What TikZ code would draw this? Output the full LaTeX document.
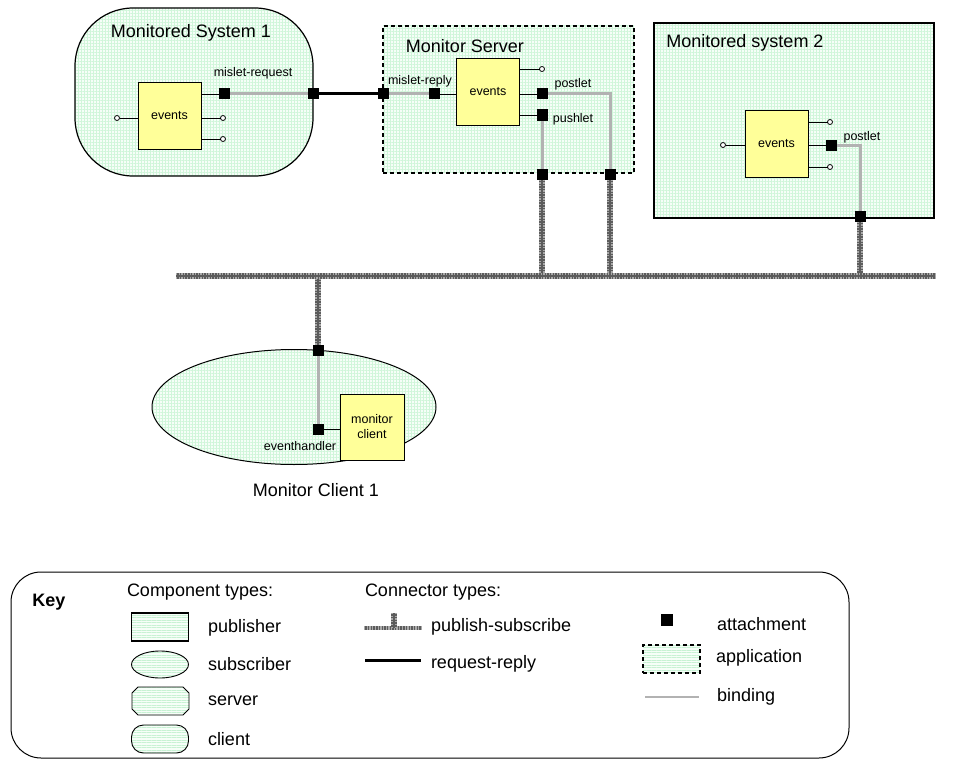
\documentclass[tikz,border=0pt]{standalone}
\usepackage{fontspec}
\setmainfont{Liberation Sans}
\usetikzlibrary{patterns.meta,shapes.geometric}

\definecolor{mint}{RGB}{246,254,248}
\definecolor{gridgreen}{RGB}{208,246,218}
\definecolor{keygreen}{RGB}{200,242,212}
\definecolor{evyellow}{RGB}{255,255,153}
\definecolor{bindgray}{RGB}{178,178,178}
\definecolor{psdark}{RGB}{92,92,92}
\definecolor{pslight}{RGB}{170,170,170}

\tikzset{
  x=1pt, y=-1pt,
  every node/.style={inner sep=0pt, outer sep=0pt},
  gridfill/.style={preaction={fill=mint}, pattern={Hatch[distance=3pt,line width=0.4pt]}, pattern color=gridgreen},
  linefill/.style={preaction={fill=mint}, pattern={Lines[angle=0,distance=2.5pt,line width=0.35pt]}, pattern color=keygreen},
  container/.style={draw, line width=1.2pt, gridfill},
  evbox/.style={draw, line width=1pt, fill=evyellow, minimum width=63pt, minimum height=66pt, font=\fontsize{12.5}{15}\selectfont},
  att/.style={fill=black, minimum size=11pt},
  port/.style={circle, draw, line width=0.8pt, fill=white, minimum size=5pt},
  wire/.style={line width=0.9pt},
  binding/.style={draw=bindgray, line width=3pt},
  reqrep/.style={draw=black, line width=3pt},
  pubsub/.style={draw=psdark, line width=6pt,
    postaction={draw=pslight, line width=6pt, dash pattern=on 1.3pt off 1.4pt},
    postaction={draw=psdark, line width=1.2pt}},
  pubsubthin/.style={draw=psdark, line width=3.5pt,
    postaction={draw=pslight, line width=3.5pt, dash pattern=on 1.3pt off 1.4pt}},
  title/.style={font=\fontsize{18}{21.6}\selectfont},
  small/.style={font=\fontsize{12.5}{15}\selectfont},
  keytext/.style={font=\fontsize{18}{21.6}\selectfont, anchor=west},
}

\begin{document}
\begin{tikzpicture}
\useasboundingbox (0,0) rectangle (954,760);

% ---------- containers ----------
\node[container, rounded corners=58pt, minimum width=238pt, minimum height=168pt] (ms1) at (194,92) {};
\node[container, dashed, dash pattern=on 4pt off 3pt, minimum width=251pt, minimum height=147pt] (srv) at (508.5,99.5) {};
\node[container, minimum width=280pt, minimum height=195pt] (ms2) at (794,120.5) {};
\node[container, line width=1pt, ellipse, minimum width=284pt, minimum height=115pt] (mc1) at (294,407) {};

\node[title] (ms1t) at (191,33) {Monitored System 1};
\node[title] (srvt) at (465,46) {Monitor Server};
\node[title] (ms2t) at (745,43) {Monitored system 2};
\node[title] (mc1t) at (316,490) {Monitor Client 1};

% ---------- components ----------
\node[evbox] (ev1) at (169.5,116) {events};
\node[evbox] (ev2) at (488,92) {events};
\node[evbox] (ev3) at (776.5,144) {events};
\node[evbox, align=center, minimum width=64pt] (mcl) at (372,427) {monitor\\client};

% ---------- ports ----------
\node[port] (p1) at (117,118) {};
\node[port] (p2) at (223,118) {};
\node[port] (p3) at (223,139) {};
\node[port] (p4) at (542,69) {};
\node[port] (p5) at (723,145) {};
\node[port] (p6) at (830,122) {};
\node[port] (p7) at (830,167) {};

% ---------- attachments ----------
\node[att] (a1) at (224,94) {};
\node[att] (a2) at (313,94) {};
\node[att] (a3) at (383,94) {};
\node[att] (a4) at (434,94) {};
\node[att] (a5) at (542,94) {};
\node[att] (a6) at (542,115) {};
\node[att] (a7) at (542,174) {};
\node[att] (a8) at (610,174) {};
\node[att] (a9) at (831,145) {};
\node[att] (a10) at (860,216) {};
\node[att] (a11) at (318,350) {};
\node[att] (a12) at (318,429) {};

% bus end points
\coordinate (busL) at (176,276);
\coordinate (busR) at (935,276);
\coordinate (b5) at (610,94);
\coordinate (b9) at (860,145);

% ---------- publish-subscribe ----------
\draw[pubsub] (a7.south) -- (a7 |- busL);
\draw[pubsub] (a8.south) -- (a8 |- busL);
\draw[pubsub] (a10.south) -- (a10 |- busL);
\draw[pubsub] (a11.north) -- (a11 |- busL);
\draw[pubsub] (busL) -- (busR);

% ---------- wires to ports ----------
\draw[wire] (p1) -- (p1 -| ev1.west);
\draw[wire] (p2 -| ev1.east) -- (p2);
\draw[wire] (p3 -| ev1.east) -- (p3);
\draw[wire] (a1 -| ev1.east) -- (a1);
\draw[wire] (a4) -- (a4 -| ev2.west);
\draw[wire] (p4 -| ev2.east) -- (p4);
\draw[wire] (a5 -| ev2.east) -- (a5);
\draw[wire] (a6 -| ev2.east) -- (a6);
\draw[wire] (p5) -- (p5 -| ev3.west);
\draw[wire] (p6 -| ev3.east) -- (p6);
\draw[wire] (a9 -| ev3.east) -- (a9);
\draw[wire] (p7 -| ev3.east) -- (p7);
\draw[wire] (a12) -- (a12 -| mcl.west);

% ---------- bindings ----------
\draw[binding] (a1) -- (a2);
\draw[binding] (a3) -- (a4);
\draw[binding] (a5) -- (b5) -- (a8);
\draw[binding] (a6) -- (a7);
\draw[binding] (a9) -- (b9) -- (a10);
\draw[binding] (a11) -- (a12);

% ---------- request-reply ----------
\draw[reqrep] (a2) -- (a3);

% attachments painted over the connector ends
\foreach \n in {a1,a2,a3,a4,a5,a6,a7,a8,a9,a10,a11,a12}
  \fill (\n.north west) rectangle (\n.south east);

% ---------- labels ----------
\node[small] (l1) at (253,73) {mislet-request};
\node[small] (l2) at (420,81) {mislet-reply};
\node[small] (l3) at (573,84) {postlet};
\node[small] (l4) at (573,119) {pushlet};
\node[small] (l5) at (862,137) {postlet};
\node[small] (l6) at (300,446) {eventhandler};

% ---------- key ----------
\node[draw, line width=1pt, rounded corners=30pt, minimum width=838pt, minimum height=186pt] (key) at (430,665) {};
\node[font=\fontsize{18}{21.6}\selectfont\bfseries] (keyt) at (49,602) {Key};
\node[keytext] (ct) at (127,592) {Component types:};
\node[keytext] (kt) at (365,592) {Connector types:};

\node[draw, line width=1.2pt, linefill, minimum width=57pt, minimum height=28pt] (kpub) at (160,627) {};
\node[keytext] (kpubt) at (208,628) {publisher};
\node[draw, line width=0.9pt, linefill, ellipse, minimum width=57pt, minimum height=27pt] (ksub) at (160,664.5) {};
\node[keytext] (ksubt) at (208,664) {subscriber};
\draw[line width=0.9pt, linefill] (132,693) -- (138,687) -- (183,687) -- (189,693) -- (189,709) -- (183,715) -- (138,715) -- (132,709) -- cycle;
\node[keytext] (ksrvt) at (208,701) {server};
\node[draw, line width=0.9pt, linefill, rounded corners=12pt, minimum width=57pt, minimum height=28pt] (kcli) at (160,739) {};
\node[keytext] (kclit) at (208,739) {client};

\coordinate (kpsL) at (364,628);
\coordinate (kpsR) at (421,628);
\coordinate (kpsT) at (394,613);
\draw[pubsubthin] (kpsL) -- (kpsR);
\draw[pubsub] (kpsT) -- (kpsT |- kpsL);
\node[keytext] (kpst) at (431,627) {publish-subscribe};
\coordinate (krrL) at (365,660);
\coordinate (krrR) at (421,660);
\draw[reqrep] (krrL) -- (krrR);
\node[keytext] (krrt) at (431,664) {request-reply};

\node[att, minimum size=12pt] (katt) at (667,619.5) {};
\node[keytext] (kattt) at (717,624) {attachment};
\node[draw, line width=1.3pt, dashed, dash pattern=on 4pt off 3pt, linefill, minimum width=57pt, minimum height=28pt] (kapp) at (671.5,659) {};
\node[keytext] (kappt) at (716,658) {application};
\coordinate (kbL) at (645,697);
\coordinate (kbR) at (699,697);
\draw[draw=bindgray, line width=2pt] (kbL) -- (kbR);
\node[keytext] (kbt) at (717,697) {binding};
\end{tikzpicture}
\end{document}
